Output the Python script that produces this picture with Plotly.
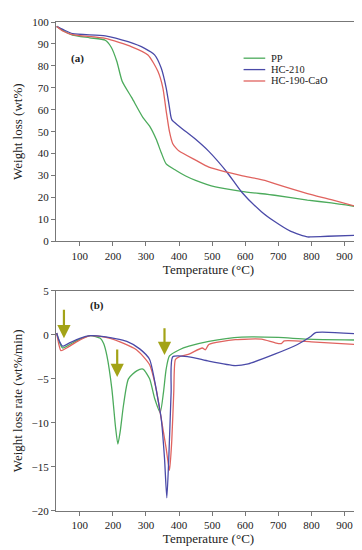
import plotly.graph_objects as go

# ---- TG data (panel a) ----
pp_T = [30, 50, 78, 130, 177, 195, 212, 228, 257, 291, 311, 331, 346, 361, 391, 420, 450, 510, 589, 689, 788, 860, 937]
pp_W = [98, 96, 94, 92.8, 91.7, 88.5, 82, 73, 65.5, 56.4, 52.5, 46.5, 40.5, 35.3, 32.3, 29.8, 27.8, 24.8, 22.8, 21, 18.8, 17.5, 15.8]

hc210_T = [30, 50, 78, 177, 246, 296, 326, 346, 361, 371, 378, 400, 450, 490, 545, 589, 649, 689, 738, 788, 800, 850, 937]
hc210_W = [98, 96.5, 94.7, 93.7, 91, 88, 85, 79, 70, 61, 55.5, 52.5, 46.5, 41, 31.5, 22.5, 13.5, 9, 4.5, 2, 2, 2.3, 2.7]

hc190_T = [30, 50, 78, 177, 257, 306, 336, 351, 361, 371, 381, 391, 400, 450, 490, 545, 589, 659, 689, 788, 860, 937]
hc190_W = [98, 95.8, 94.2, 92.5, 88.7, 85, 77.5, 70, 59.5, 50, 44.5, 42.5, 41.2, 37, 33.8, 31.5, 30, 27.8, 26.3, 21.8, 19, 15.8]

# ---- DTG data (panel b) ----
pp_rT = [30, 38, 48, 70, 100, 132, 162, 172, 182, 197, 208, 215, 222, 232, 247, 272, 291, 311, 326, 343, 353, 361, 371, 401, 430, 490, 589, 700, 788, 937]
pp_R = [0.2, -0.8, -1.5, -1.1, -0.5, -0.1, -0.4, -1.0, -2.4, -6.2, -10.5, -12.4, -11.0, -8.0, -5.0, -4.1, -3.9, -5.0, -7.2, -8.8, -6.5, -3.9, -2.4, -1.7, -1.3, -0.75, -0.26, -0.3, -0.5, -0.6]

hc210_rT = [30, 38, 48, 70, 100, 132, 172, 242, 281, 311, 326, 336, 346, 356, 363, 369, 376, 381, 430, 490, 570, 609, 689, 758, 798, 813, 937]
hc210_R = [0.2, -0.7, -1.3, -0.9, -0.4, -0.1, -0.2, -0.75, -1.6, -2.8, -5.2, -7.3, -9.5, -14.0, -18.5, -14.0, -6.5, -2.5, -2.5, -3.0, -3.5, -3.3, -2.2, -1.1, -0.2, 0.25, 0.1]

hc190_rT = [30, 36, 43, 60, 90, 132, 192, 271, 311, 331, 346, 361, 371, 378, 384, 389, 400, 430, 470, 480, 490, 570, 649, 689, 709, 718, 800, 937]
hc190_R = [0.2, -1.0, -1.8, -1.5, -0.8, -0.1, -0.4, -1.7, -3.4, -6.2, -9.5, -12.9, -15.4, -12.0, -6.5, -2.8, -2.5, -2.2, -1.5, -1.7, -1.1, -0.56, -0.5, -0.9, -1.0, -0.7, -0.8, -1.1]

# arrows: (x, tail y, head y)
arrow_T = [52, 213, 356]
arrow_tail = [3.0, -1.5, 0.9]
arrow_head = [-0.4, -4.8, -2.3]

x_ticks = [100, 200, 300, 400, 500, 600, 700, 800, 900]
tg_ticks = [0, 10, 20, 30, 40, 50, 60, 70, 80, 90, 100]
dtg_ticks = [-20, -15, -10, -5, 0, 5]

legend_names = ["PP", "HC-210", "HC-190-CaO"]

GREEN = "#4cab5c"
BLUE = "#4a4aa8"
RED = "#e0635f"
ARROW = "#a3a317"
FONT = "Liberation Serif"
colors = [GREEN, BLUE, RED]

fig = go.Figure()

def add(xs, ys, name, color, xa, ya):
    fig.add_trace(go.Scatter(x=xs, y=ys, mode="lines", name=name,
                             line=dict(color=color, width=1.3, shape="spline", smoothing=0.6),
                             xaxis=xa, yaxis=ya, showlegend=False))

add(pp_T, pp_W, "PP", GREEN, "x", "y")
add(hc210_T, hc210_W, "HC-210", BLUE, "x", "y")
add(hc190_T, hc190_W, "HC-190-CaO", RED, "x", "y")
add(pp_rT, pp_R, "PP", GREEN, "x2", "y2")
add(hc190_rT, hc190_R, "HC-190-CaO", RED, "x2", "y2")
add(hc210_rT, hc210_R, "HC-210", BLUE, "x2", "y2")

axis_common = dict(showline=True, linecolor="#777777", linewidth=1, mirror=True,
                   ticks="outside", ticklen=4, tickcolor="#777777", showgrid=False,
                   zeroline=False, tickfont=dict(family=FONT, size=11, color="#222"))

fig.update_layout(
    width=362, height=550,
    margin=dict(l=45, r=8, t=8, b=47),
    plot_bgcolor="white", paper_bgcolor="white",
    font=dict(family=FONT, color="#222"),
    xaxis=dict(domain=[0, 1], anchor="y", range=[28, 950], tickvals=x_ticks,
               title=dict(text="Temperature (°C)", font=dict(size=13), standoff=2), **axis_common),
    yaxis=dict(domain=[0.5515, 1], anchor="x", range=[0, 100], tickvals=tg_ticks,
               title=dict(text="Weight loss (wt%)", font=dict(size=13), standoff=6), **axis_common),
    xaxis2=dict(domain=[0, 1], anchor="y2", range=[28, 950], tickvals=x_ticks,
                title=dict(text="Temperature (°C)", font=dict(size=13), standoff=2), **axis_common),
    yaxis2=dict(domain=[0, 0.4505], anchor="x2", range=[-20, 5], tickvals=dtg_ticks,
                title=dict(text="Weight loss rate (wt%/min)", font=dict(size=13), standoff=6), **axis_common),
    showlegend=False,
)

# manual compact legend (panel a)
leg_y = [0.835, 0.783, 0.731]
for name, col, ly in zip(legend_names, colors, leg_y):
    fig.add_shape(type="line", xref="x domain", yref="y domain", x0=0.615, x1=0.686, y0=ly, y1=ly,
                  line=dict(color=col, width=1.3))
    fig.add_annotation(xref="x domain", yref="y domain", x=0.702, y=ly, text=name, showarrow=False,
                       xanchor="left", yanchor="middle", height=11, borderpad=0,
                       font=dict(family=FONT, size=10.5))

fig.add_annotation(x=93, y=83.5, xref="x", yref="y", text="<b>(a)</b>", showarrow=False,
                   font=dict(family=FONT, size=11))
fig.add_annotation(x=153, y=3.3, xref="x2", yref="y2", text="<b>(b)</b>", showarrow=False,
                   font=dict(family=FONT, size=11))

for t, tail, head in zip(arrow_T, arrow_tail, arrow_head):
    fig.add_annotation(x=t, y=head, ax=t, ay=tail, xref="x2", yref="y2", axref="x2", ayref="y2",
                       showarrow=True, arrowhead=2, arrowsize=1.2, arrowwidth=2.2,
                       arrowcolor=ARROW, text="")

fig.write_html("out.html")
